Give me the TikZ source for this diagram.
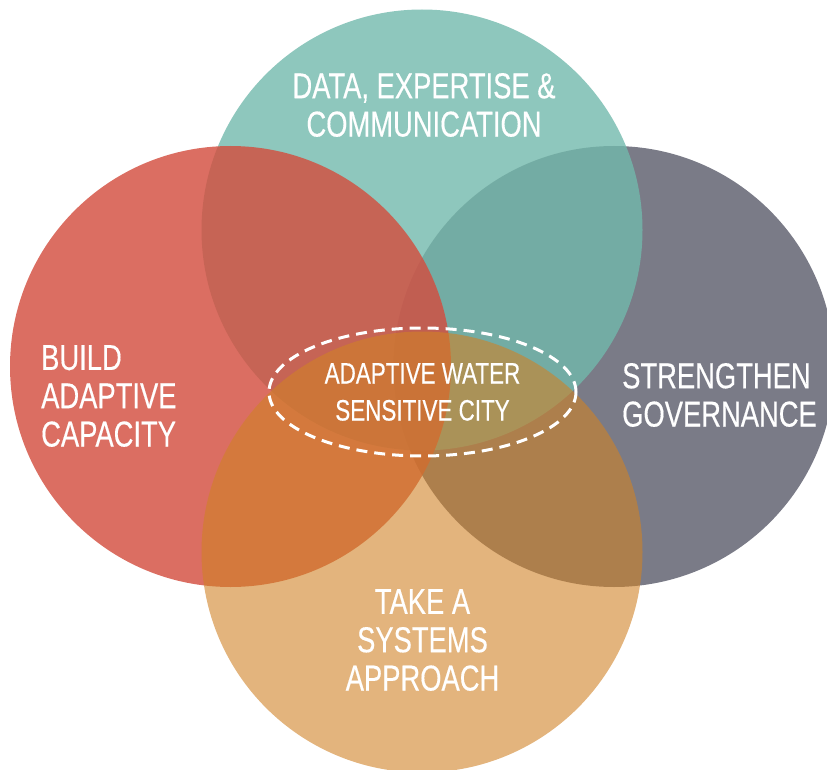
\documentclass[tikz,border=0pt]{standalone}
\usepackage{fontspec}
\usetikzlibrary{shapes.geometric}
\newfontfamily\cond[FakeStretch=0.76,FakeBold=0.35]{Liberation Sans}
\definecolor{greyC}{RGB}{122,123,135}
\definecolor{tealC}{RGB}{114,185,172}
\definecolor{redC}{RGB}{211,78,63}
\definecolor{orangeC}{RGB}{208,130,38}
\begin{document}
\begin{tikzpicture}[x=1pt,y=-1pt,
  venn/.style={circle, minimum size=441pt, inner sep=0pt, draw=none},
  vlabel/.style={text=white, inner sep=0pt, align=center, font=\cond\fontsize{36}{38.3}\selectfont},
  corelabel/.style={text=white, align=center, font=\cond\fontsize{29.5}{37}\selectfont},
  coreline/.style={draw=white, line width=3pt, dash pattern=on 11pt off 7pt}]
\useasboundingbox (0,0) rectangle (827,770);
\clip (0,0) rectangle (827,770);
\node[venn, fill=greyC] (gov) at (614,366.5) {};
\node[venn, fill=tealC, fill opacity=0.8] (data) at (422,230) {};
\node[venn, fill=redC, fill opacity=0.82] (build) at (230.5,366.5) {};
\node[venn, fill=orangeC, fill opacity=0.6] (sys) at (422,552) {};
\node[coreline, ellipse, inner sep=0pt, minimum width=307pt, minimum height=128pt, corelabel] (city) at (422.5,392) {ADAPTIVE WATER\\SENSITIVE CITY};
\node[vlabel] (tdata) at (424,105) {DATA, EXPERTISE \&\\COMMUNICATION};
\node[vlabel, anchor=west, align=left] (tbuild) at (41,396) {BUILD\\ADAPTIVE\\CAPACITY};
\node[vlabel, anchor=west, align=left] (tgov) at (622,395) {STRENGTHEN\\GOVERNANCE};
\node[vlabel] (tsys) at (422.5,640) {TAKE A\\SYSTEMS\\APPROACH};
\end{tikzpicture}
\end{document}
